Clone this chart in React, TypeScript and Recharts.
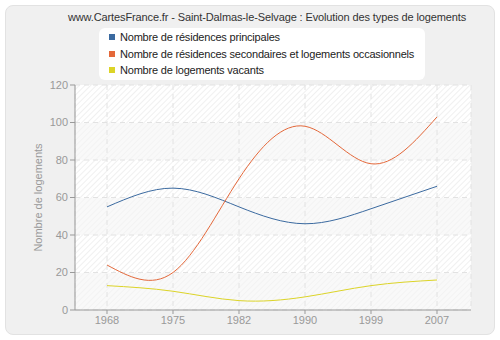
import { CartesianGrid, Line, LineChart, XAxis, YAxis } from "recharts";

const years = ["1968", "1975", "1982", "1990", "1999", "2007"];
const principales = [55, 65, 55, 46, 54, 66];
const secondaires = [24, 20, 70, 98, 78, 103];
const vacants = [13, 10, 5, 7, 13, 16];
const yTicks = [0, 20, 40, 60, 80, 100, 120];

const series = [
  { key: "principales", name: "Nombre de résidences principales", color: "#3b6aa0" },
  {
    key: "secondaires",
    name: "Nombre de résidences secondaires et logements occasionnels",
    color: "#e4683a",
  },
  { key: "vacants", name: "Nombre de logements vacants", color: "#dcd428" },
];

const data = years.map((year, i) => ({
  year,
  principales: principales[i],
  secondaires: secondaires[i],
  vacants: vacants[i],
}));

const FONT = "'Liberation Sans', Arial, sans-serif";

function LegendBox() {
  return (
    <div
      style={{
        position: "absolute",
        left: 99,
        top: 28,
        width: 326,
        height: 52,
        boxSizing: "border-box",
        background: "#fff",
        borderRadius: 6,
        padding: "1px 0 0 10px",
        fontFamily: FONT,
        fontSize: 11,
        letterSpacing: -0.2,
        color: "#222",
        whiteSpace: "nowrap",
      }}
    >
      {series.map((s) => (
        <div
          key={s.key}
          style={{ display: "flex", alignItems: "center", height: 16.5 }}
        >
          <span
            style={{
              width: 6,
              height: 6,
              flexShrink: 0,
              background: s.color,
              display: "inline-block",
              marginRight: 5,
            }}
          />
          {s.name}
        </div>
      ))}
    </div>
  );
}

export default function App() {
  return (
    <div
      style={{
        position: "absolute",
        left: 0,
        top: 0,
        width: 500,
        height: 340,
        background: "#fff",
      }}
    >
      <div
        style={{
          position: "absolute",
          left: 5,
          top: 5,
          width: 488,
          height: 328,
          background: "#f0f0f0",
          border: "1px solid #e2e2e2",
          borderRadius: 8,
        }}
      />
      <div
        style={{
          position: "absolute",
          left: 0,
          top: 11,
          width: 534,
          textAlign: "center",
          fontFamily: FONT,
          fontSize: 11,
          letterSpacing: -0.12,
          color: "#333",
          whiteSpace: "nowrap",
        }}
      >
        www.CartesFrance.fr - Saint-Dalmas-le-Selvage : Evolution des types de logements
      </div>
      <LegendBox />
      <div style={{ position: "absolute", left: 0, top: 0 }}>
        <LineChart
          width={500}
          height={340}
          data={data}
          margin={{ top: 85, right: 29, bottom: 10, left: 35 }}
        >
          <defs>
            <pattern
              id="hatchStrong"
              width="4"
              height="4"
              patternUnits="userSpaceOnUse"
              patternTransform="rotate(45)"
            >
              <rect width="4" height="4" fill="#ffffff" />
              <line x1="0" y1="0" x2="0" y2="4" stroke="#ececec" strokeWidth="1.5" />
            </pattern>
            <pattern
              id="hatchFaint"
              width="4"
              height="4"
              patternUnits="userSpaceOnUse"
              patternTransform="rotate(45)"
            >
              <rect width="4" height="4" fill="#f9f9f9" />
              <line x1="0" y1="0" x2="0" y2="4" stroke="#f2f2f2" strokeWidth="1.5" />
            </pattern>
          </defs>
          <CartesianGrid
            stroke="#e2e2e2"
            strokeDasharray="5 4"
            horizontalFill={["url(#hatchStrong)", "url(#hatchFaint)"]}
            fillOpacity={1}
          />
          <XAxis
            dataKey="year"
            padding={{ left: 32, right: 34 }}
            stroke="#999"
            tick={{ fill: "#999", fontSize: 11, fontFamily: FONT }}
            tickSize={4}
            height={20}
          />
          <XAxis
            xAxisId="top"
            orientation="top"
            dataKey="year"
            stroke="#e6e6e6"
            tick={false}
            tickLine={false}
            height={0}
          />
          <YAxis
            domain={[0, 120]}
            ticks={yTicks}
            stroke="#999"
            tick={{ fill: "#999", fontSize: 11, fontFamily: FONT }}
            tickSize={5}
            width={40}
            label={{
              value: "Nombre de logements",
              angle: -90,
              position: "insideLeft",
              offset: 3,
              style: { textAnchor: "middle", fill: "#999", fontSize: 11, fontFamily: FONT },
            }}
          />
          <YAxis
            yAxisId="right"
            orientation="right"
            domain={[0, 120]}
            stroke="#e6e6e6"
            tick={false}
            tickLine={false}
            width={0}
          />
          {series.map((s) => (
            <Line
              key={s.key}
              type="natural"
              dataKey={s.key}
              name={s.name}
              stroke={s.color}
              strokeWidth={1}
              dot={false}
              isAnimationActive={false}
            />
          ))}
        </LineChart>
      </div>
    </div>
  );
}
